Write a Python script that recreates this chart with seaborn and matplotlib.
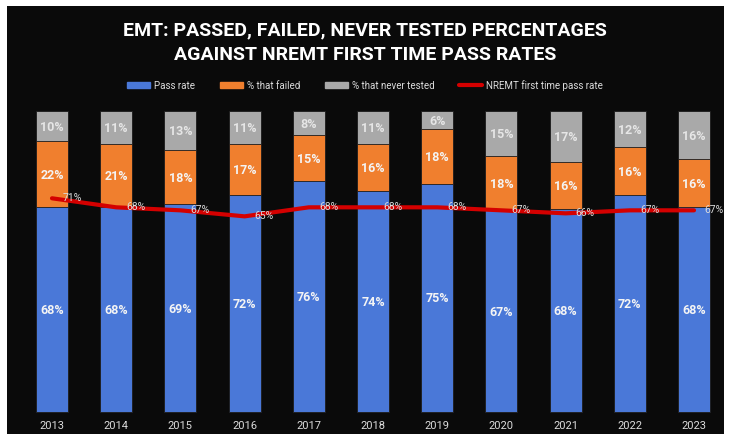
import numpy as np
import pandas as pd
import seaborn as sns
import matplotlib.pyplot as plt
from matplotlib.patches import Rectangle, Patch
from matplotlib.lines import Line2D

years = ["2013", "2014", "2015", "2016", "2017", "2018", "2019", "2020", "2021", "2022", "2023"]
pass_rate = [68, 68, 69, 72, 76, 74, 75, 67, 68, 72, 68]
failed = [22, 21, 18, 17, 15, 16, 18, 18, 16, 16, 16]
never_tested = [10, 11, 13, 11, 8, 11, 6, 15, 17, 12, 16]
nremt = [71, 68, 67, 65, 68, 68, 68, 67, 66, 67, 67]

BLUE = "#4a78d8"
ORANGE = "#f07f2e"
GRAY = "#a9a9a9"
RED = "#d40000"
TXT = "#dcdcdc"

sns.set_style("dark")
plt.rcParams["font.family"] = ["Roboto", "DejaVu Sans"]

df = pd.DataFrame({"year": years, "pass": pass_rate, "failed": failed,
                   "never": never_tested, "nremt": nremt})
# 100% stacked: scale each year's segments to a full column
tot = df["pass"] + df["failed"] + df["never"]
df["p_h"] = df["pass"] / tot * 100
df["pf_h"] = (df["pass"] + df["failed"]) / tot * 100
df["total_h"] = 100.0

fig = plt.figure(figsize=(7.3, 4.35), dpi=100)
fig.patch.set_facecolor("white")
fig.patches.append(Rectangle((7 / 730, 0), 717 / 730, 428 / 435, transform=fig.transFigure,
                             facecolor="#0a0a0a", edgecolor="none", zorder=-5))

ax = fig.add_axes([7 / 730, 22 / 435, 717 / 730, 301 / 435])
ax.set_facecolor("none")
ax.set_zorder(2)

# stacked bars drawn as overlapping cumulative totals
sns.barplot(data=df, x="year", y="total_h", color=GRAY, width=0.5, saturation=1, ax=ax)
sns.barplot(data=df, x="year", y="pf_h", color=ORANGE, width=0.5, saturation=1, ax=ax)
sns.barplot(data=df, x="year", y="p_h", color=BLUE, width=0.5, saturation=1, ax=ax)
for p in ax.patches:
    p.set_clip_on(False)
    p.set_edgecolor("#1a1a1a")
    p.set_linewidth(0.6)

x = np.arange(len(years))
sns.lineplot(x=x, y=df["nremt"], color=RED, linewidth=3, ax=ax)

for i in range(len(years)):
    ax.text(i, df["p_h"][i] / 2, f"{pass_rate[i]}%", ha="center", va="center",
            color="#f4f4f4", fontsize=9, fontweight="bold")
    ax.text(i, (df["p_h"][i] + df["pf_h"][i]) / 2, f"{failed[i]}%", ha="center",
            va="center", color="#f4f4f4", fontsize=9, fontweight="bold")
    ax.text(i, (df["pf_h"][i] + 100) / 2, f"{never_tested[i]}%", ha="center",
            va="center", color="#e6e6e6", fontsize=9, fontweight="bold")
    ax.text(i + 0.16, nremt[i] + 0.3, f"{nremt[i]}%", ha="left", va="center",
            color=TXT, fontsize=7.5)

ax.set_xlim(-45 / 64.2, 672 / 64.2)
ax.set_ylim(0, 100)
ax.set_xlabel("")
ax.set_ylabel("")
ax.set_yticks([])
ax.tick_params(axis="x", length=0, pad=6, colors=TXT, labelsize=8)
ax.grid(False)
for s in ax.spines.values():
    s.set_visible(False)

fig.text(0.5, 405 / 435, "EMT: PASSED, FAILED, NEVER TESTED PERCENTAGES", ha="center",
         va="center", color="white", fontsize=14, fontweight="bold")
fig.text(0.5, 380 / 435, "AGAINST NREMT FIRST TIME PASS RATES", ha="center",
         va="center", color="white", fontsize=14, fontweight="bold")

handles = [Patch(color=BLUE), Patch(color=ORANGE), Patch(color=GRAY),
           Line2D([0], [0], color=RED, linewidth=3)]
labels = ["Pass rate", "% that failed", "% that never tested", "NREMT first time pass rate"]
leg = fig.legend(handles, labels, loc="center", bbox_to_anchor=(0.5, 349 / 435), ncol=4,
                 frameon=False, fontsize=7, handlelength=2.4, handleheight=0.5,
                 columnspacing=2.5, handletextpad=0.4)
for t in leg.get_texts():
    t.set_color(TXT)

fig.savefig("out.png", dpi=100, facecolor=fig.get_facecolor())
